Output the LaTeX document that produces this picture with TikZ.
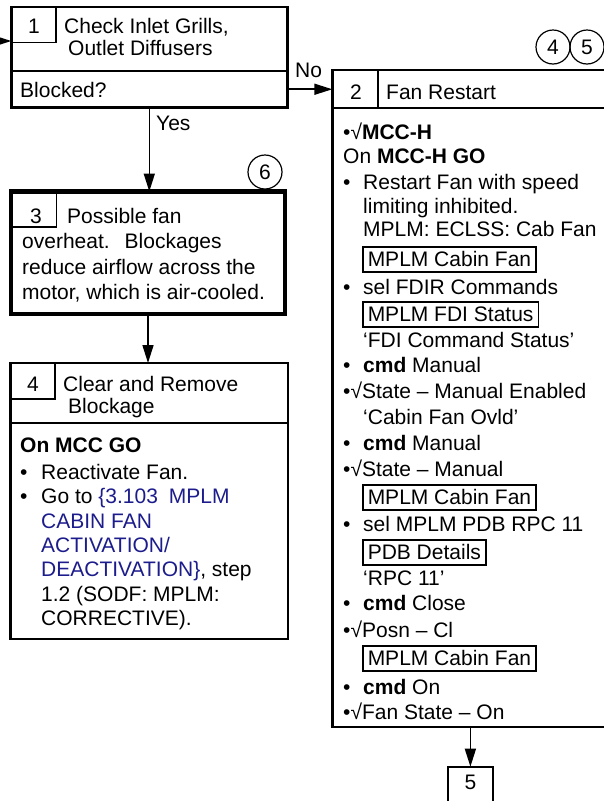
\documentclass[tikz,border=0pt]{standalone}
\usepackage{fontspec}
\setmainfont{Liberation Sans}
\usetikzlibrary{arrows.meta}
\definecolor{linkblue}{RGB}{28,28,140}
\newcommand{\fsz}{\fontsize{21}{25}\selectfont}
\begin{document}
\begin{tikzpicture}[x=1pt,y=-1pt,
  box/.style={draw, line width=2.4pt, anchor=north west, inner sep=0pt, outer sep=0pt},
  thickbox/.style={draw, line width=4.7pt, anchor=north west, inner sep=0pt, outer sep=0pt},
  numbox/.style={draw, line width=1.5pt, anchor=north west, inner sep=0pt, outer sep=0pt},
  tx/.style={anchor=base west, inner sep=0pt, font=\fsz},
  num/.style={anchor=base, inner sep=0pt, font=\fsz},
  scr/.style={draw, line width=1.5pt, anchor=base west, inner xsep=5pt, inner ysep=0pt, text height=19pt, text depth=6pt, font=\fsz},
  arr/.style={draw, line width=1.6pt, -{Triangle[length=18pt,width=11pt]}},
  refc/.style={circle, draw, line width=1.2pt, minimum size=34pt, inner sep=0pt, font=\fsz}]
\useasboundingbox (0,0) rectangle (603,801);

% ---- Box 1
\node[box, minimum width=276pt, minimum height=100.8pt] (b1) at (11.3,6.7) {};
\node[box, minimum width=276pt, minimum height=36.5pt] (b1q) at (11.3,71) {};
\node[numbox, minimum width=44.7pt, minimum height=35.8pt] (n1) at (11.3,6.7) {};
\node[num] (d1) at (34,33) {1};
\node[tx] (t1a) at (64,33) {Check Inlet Grills,};
\node[tx] (t1b) at (68,55) {Outlet Diffusers};
\node[tx] (t1c) at (20,97) {Blocked?};

% ---- Box 3
\node[thickbox, minimum width=274pt, minimum height=122.5pt] (b3) at (11,191.5) {};
\node[numbox, minimum width=45.5pt, minimum height=35.5pt] (n3) at (11,191.5) {};
\node[num] (d3) at (36,223) {3};
\node[tx] (t3a) at (67,223) {Possible fan};
\node[tx] (t3b) at (22,248) {overheat.\hspace{15pt}Blockages};
\node[tx] (t3c) at (22,274) {reduce airflow across the};
\node[tx] (t3d) at (22,299) {motor, which is air-cooled.};
\node[refc] (c6) at (265,172) {6};

% ---- Box 4
\node[box, minimum width=277.2pt, minimum height=276pt] (b4) at (10.5,363) {};
\node[box, minimum width=277.2pt, minimum height=60pt] (b4h) at (10.5,363) {};
\node[numbox, minimum width=44.7pt, minimum height=36pt] (n4) at (10.5,363) {};
\node[num] (d4) at (33,391) {4};
\node[tx] (t4a) at (63,391) {Clear and Remove};
\node[tx] (t4b) at (68,413) {Blockage};
\node[tx] (t4c) at (20,452) {\textbf{On MCC GO}};
\node[tx] (u4a) at (20,479) {•};
\node[tx] (t4d) at (41,479) {Reactivate Fan.};
\node[tx] (u4b) at (20,503.5) {•};
\node[tx] (t4e) at (41,503.5) {Go to \textcolor{linkblue}{\{3.103\hspace{11pt}MPLM}};
\node[tx] (t4f) at (41,528) {\textcolor{linkblue}{CABIN FAN}};
\node[tx] (t4g) at (41,552.4) {\textcolor{linkblue}{ACTIVATION/}};
\node[tx] (t4h) at (41,576.8) {\textcolor{linkblue}{DEACTIVATION\}}, step};
\node[tx] (t4i) at (41,601.2) {1.2 (SODF: MPLM:};
\node[tx] (t4j) at (41,625.6) {CORRECTIVE).};

% ---- Box 2
\node[box, minimum width=287.7pt, minimum height=656.7pt] (b2) at (332.3,70) {};
\node[box, minimum width=287.7pt, minimum height=38pt] (b2h) at (332.3,70) {};
\node[box, minimum width=45.5pt, minimum height=38pt] (n2) at (332.3,70) {};
\node[num] (d2) at (356,99) {2};
\node[tx] (t2h) at (386,99) {Fan Restart};
\node[refc] (c4) at (553,47) {4};
\node[refc] (c5) at (587,47) {5};

\node[tx] (s01) at (343,139) {•√\textbf{MCC-H}};
\node[tx] (s02) at (343,163) {On \textbf{MCC-H GO}};
\node[tx] (u03) at (343,189) {•};
\node[tx] (s03) at (363,189) {Restart Fan with speed};
\node[tx] (s04) at (363,213) {limiting inhibited.};
\node[tx] (s05) at (363,236) {MPLM: ECLSS: Cab Fan};
\node[scr] (s06) at (362,266) {MPLM Cabin Fan};
\node[tx] (u07) at (343,294) {•};
\node[tx] (s07) at (363,294) {sel FDIR Commands};
\node[scr] (s08) at (362,321) {MPLM FDI Status};
\node[tx] (s09) at (363,347) {‘FDI Command Status’};
\node[tx] (u10) at (343,372) {•};
\node[tx] (s10) at (363,372) {\textbf{cmd} Manual};
\node[tx] (s11) at (343,398) {•√State – Manual Enabled};
\node[tx] (s12) at (363,424) {‘Cabin Fan Ovld’};
\node[tx] (u13) at (343,450) {•};
\node[tx] (s13) at (363,450) {\textbf{cmd} Manual};
\node[tx] (s14) at (343,476) {•√State – Manual};
\node[scr] (s15) at (362,504) {MPLM Cabin Fan};
\node[tx] (u16) at (343,531) {•};
\node[tx] (s16) at (363,531) {sel MPLM PDB RPC 11};
\node[scr] (s17) at (362,559) {PDB Details\hspace{7pt}};
\node[tx] (s18) at (363,585) {‘RPC 11’};
\node[tx] (u19) at (343,610) {•};
\node[tx] (s19) at (363,610) {\textbf{cmd} Close};
\node[tx] (s20) at (343,637) {•√Posn – Cl};
\node[scr] (s21) at (362,665) {MPLM Cabin Fan};
\node[tx] (u22) at (343,694) {•};
\node[tx] (s22) at (363,694) {\textbf{cmd} On};
\node[tx] (s23) at (343,719) {•√Fan State – On};

% ---- Box 5
\node[box, minimum width=45.2pt, minimum height=80pt] (b5) at (447.8,766.7) {};
\node[num] (d5) at (470.4,789) {5};

% ---- connectors
\coordinate (c0) at (-20,41);
\draw[arr] (c0) -- (b1.west |- c0);
\draw[arr] (b1q.south) -- (b1q.south |- b3.north);
\node[tx] (yes) at (156,130) {Yes};
\draw[arr] (b3.south) -- (b3.south |- b4.north);
\draw[arr] (b1q.east) -- (b1q.east -| b2.west);
\node[tx] (no) at (295,77) {No};
\draw[arr] (b5.north |- b2.south) -- (b5.north);
\end{tikzpicture}
\end{document}
